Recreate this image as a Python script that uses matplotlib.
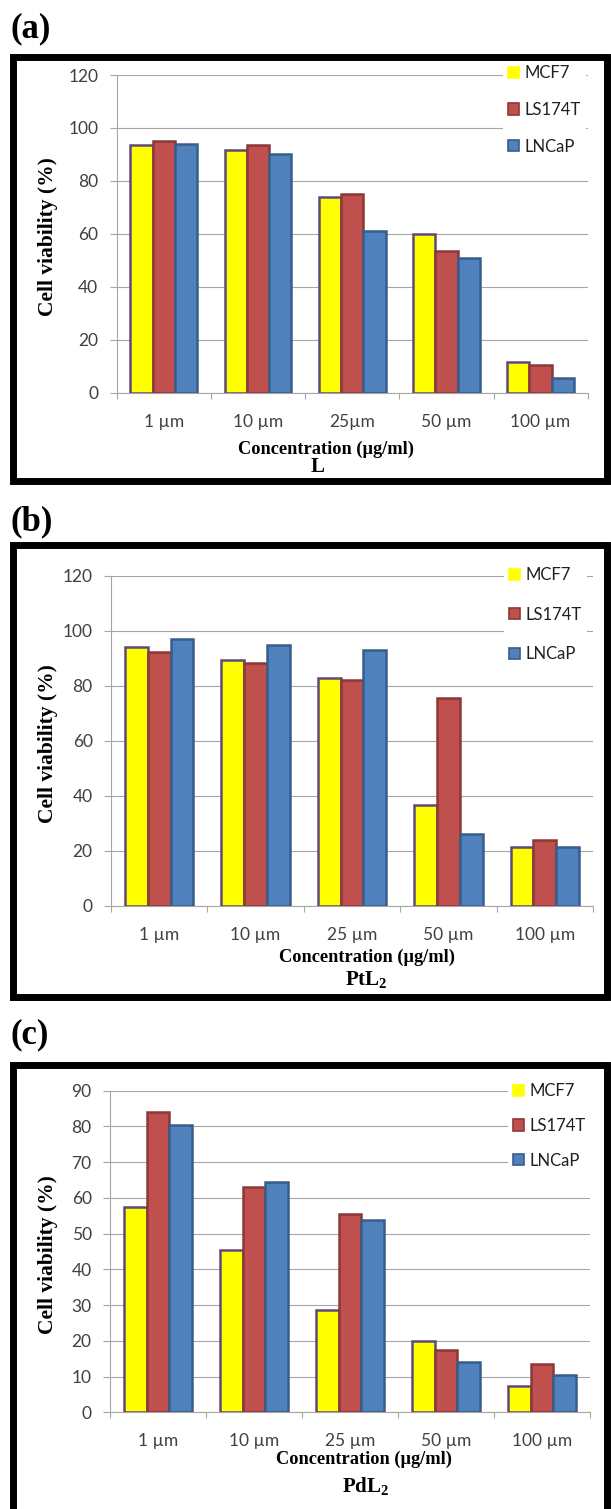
"""Cell viability bar charts for L, PtL2 and PdL2 (three stacked panels)."""

import matplotlib

matplotlib.use("Agg")
import matplotlib.pyplot as plt  # noqa: E402
from matplotlib.patches import Patch, Rectangle  # noqa: E402

W, H = 611, 1509

concentrations = ["1 µm", "10 µm", "25µm", "50 µm", "100 µm"]
concentrations_bc = ["1 µm", "10 µm", "25 µm", "50 µm", "100 µm"]
cell_lines = ["MCF7", "LS174T", "LNCaP"]

# panel (a): L
l_mcf7 = [93.5, 91.5, 74, 60, 11.5]
l_ls174t = [95, 93.5, 75, 53.5, 10.5]
l_lncap = [94, 90, 61, 51, 5.5]

# panel (b): PtL2
pt_mcf7 = [94, 89.5, 83, 36.5, 21.5]
pt_ls174t = [92.5, 88.5, 82, 75.5, 24]
pt_lncap = [97, 95, 93, 26, 21.5]

# panel (c): PdL2
pd_mcf7 = [57.5, 45.5, 28.5, 20, 7.5]
pd_ls174t = [84, 63, 55.5, 17.5, 13.5]
pd_lncap = [80.5, 64.5, 53.8, 14, 10.5]

FILLS = ["#FFFF00", "#C0504D", "#4F81BD"]
EDGES = ["#5F497A", "#8C3836", "#385D8A"]
LEGEND_EDGES = ["#FFFF00", "#8C3836", "#385D8A"]
TICK_COLOR = "#404040"
GRID_COLOR = "#A6A6A6"

plt.rcParams["mathtext.fontset"] = "custom"
plt.rcParams["mathtext.bf"] = "Liberation Serif:bold"
plt.rcParams["mathtext.rm"] = "Liberation Serif:bold"
plt.rcParams["mathtext.default"] = "bf"


def fx(x):
    return x / W


def fy(y):
    return 1 - y / H


def draw_panel(fig, letter, letter_y, frame, axbox, labels, series, ymax, ystep,
               xlabel_xy, name_xy, name, legend_xy, legend_sp):
    # black frame around the panel (pixel centreline box: left, top, right, bottom)
    x0, y0, x1, y1 = frame
    fig.patches.append(Rectangle((fx(x0), fy(y1)), fx(x1) - fx(x0), fy(y0) - fy(y1),
                                 transform=fig.transFigure, fill=False,
                                 edgecolor="black", linewidth=5.0, zorder=5))
    fig.text(fx(10), fy(letter_y), f"({letter})", family="Liberation Serif",
             weight="bold", fontsize=25, va="center", ha="left")

    left, top, right, bottom = axbox
    ax = fig.add_axes([fx(left), fy(bottom), fx(right) - fx(left), fy(top) - fy(bottom)])
    pos = list(range(len(labels)))
    w = 0.236
    for i, vals in enumerate(series):
        ax.bar([p + (i - 1) * w for p in pos], vals, width=w, color=FILLS[i],
               edgecolor=EDGES[i], linewidth=1.8, zorder=3)

    ax.set_xlim(-0.5, len(labels) - 0.5)
    ax.set_ylim(0, ymax)
    ax.set_yticks(range(0, ymax + 1, ystep))
    ax.set_xticks(pos)
    ax.set_xticklabels(labels)
    ax.set_xticks([p - 0.5 for p in range(len(labels) + 1)], minor=True)
    ax.tick_params(axis="x", which="major", length=0, pad=15,
                   labelsize=12.5, labelcolor=TICK_COLOR)
    ax.tick_params(axis="x", which="minor", length=4, width=0.8,
                   color=GRID_COLOR, direction="out")
    ax.tick_params(axis="y", length=4.8, width=0.8, color=GRID_COLOR, pad=8.4,
                   labelsize=12.5, labelcolor=TICK_COLOR)
    for lab in ax.get_xticklabels() + ax.get_yticklabels():
        lab.set_family("Lato")
    ax.grid(axis="y", color=GRID_COLOR, linewidth=0.8)
    ax.set_axisbelow(True)
    for side in ("top", "right"):
        ax.spines[side].set_visible(False)
    for side in ("left", "bottom"):
        ax.spines[side].set_color(GRID_COLOR)
        ax.spines[side].set_linewidth(0.8)

    fig.text(fx(48), fy((top + bottom) / 2 + 3), "Cell viability (%)",
             family="Liberation Serif", weight="bold", fontsize=15.5,
             rotation=90, ha="center", va="center")
    fig.text(fx(xlabel_xy[0]), fy(xlabel_xy[1]), "Concentration (µg/ml)",
             family="Liberation Serif", weight="bold", fontsize=13.2,
             ha="center", va="center")
    fig.text(fx(name_xy[0]), fy(name_xy[1]), name, family="Liberation Serif",
             weight="bold", fontsize=15, ha="center", va="center")

    handles = [Patch(facecolor=FILLS[i], edgecolor=LEGEND_EDGES[i], linewidth=1.2,
                     label=cell_lines[i]) for i in range(3)]
    leg = ax.legend(handles=handles, loc="upper left",
                    bbox_to_anchor=(fx(legend_xy[0]), fy(legend_xy[1])),
                    bbox_transform=fig.transFigure, frameon=True, fancybox=False,
                    facecolor="white", edgecolor="none", framealpha=1,
                    borderpad=0.3, borderaxespad=0, handlelength=0.65,
                    handleheight=0.65, handletextpad=0.35, labelspacing=legend_sp,
                    prop={"family": "Lato", "size": 12})
    leg.set_zorder(4)
    for t in leg.get_texts():
        t.set_color("#202020")
    return ax


fig = plt.figure(figsize=(W / 100, H / 100), dpi=100)

draw_panel(fig, "a", 29, (13.4, 57, 607.5, 480.5), (116.7, 75, 587.7, 392.7),
           concentrations, [l_mcf7, l_ls174t, l_lncap], 120, 20,
           (326, 449), (318, 467), "L", (503, 60), 1.25)
draw_panel(fig, "b", 522, (13.4, 545.4, 607.5, 996.5), (111, 576, 593, 905.7),
           concentrations_bc, [pt_mcf7, pt_ls174t, pt_lncap], 120, 20,
           (367, 957), (366, 980), r"PtL$_{2}$", (504, 562), 1.42)
draw_panel(fig, "c", 1035, (13.4, 1065.4, 607.5, 1510.2), (110, 1090.7, 590, 1412.3),
           concentrations_bc, [pd_mcf7, pd_ls174t, pd_lncap], 90, 10,
           (364, 1459), (366, 1486), r"PdL$_{2}$", (508, 1078), 1.13)

fig.savefig("out.png", dpi=100)
